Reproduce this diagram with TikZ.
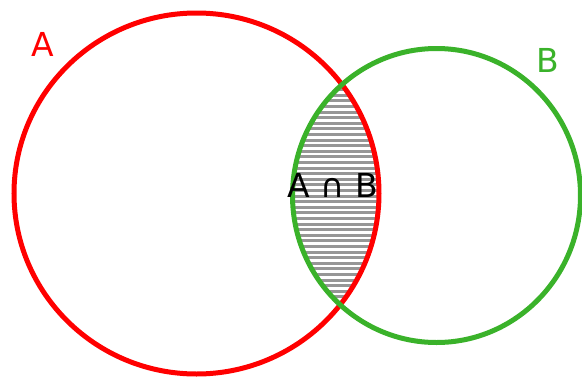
\documentclass[tikz,border=0pt]{standalone}
\usepackage{fontspec}
\setmainfont{DejaVu Sans}
\definecolor{SetRed}{RGB}{255,0,0}
\definecolor{SetGreen}{RGB}{58,178,42}
\definecolor{HatchGray}{RGB}{150,150,150}
\tikzset{
  setline/.style ={line width=5pt},
  hatch/.style   ={draw=HatchGray, line width=3pt},
  setlab/.style  ={font=\fontsize{33}{33}\selectfont, inner sep=0pt},
}

\begin{document}
\begin{tikzpicture}[x=1pt,y=-1pt]
  \useasboundingbox (0,0) rectangle (582,378);

  % overlap A and B
  \begin{scope}
    \clip (196.5,193.5) ellipse[x radius=182.5, y radius=180.5];
    \clip (436.5,195.5) ellipse[x radius=144, y radius=147];
    \foreach \y in {84,89.6,...,320}
      \draw[hatch] (280,\y) -- (390,\y);
  \end{scope}

  \draw[setline,SetRed]   (196.5,193.5) ellipse[x radius=182.5, y radius=180.5];
  \draw[setline,SetGreen] (436.5,195.5) ellipse[x radius=144, y radius=147];

  \node[setlab,text=SetRed]   (labA)  at (43,44)   {A};
  \node[setlab,text=SetGreen] (labB)  at (548,60)  {B};
  \node[setlab]               (labAB) at (332.5,185) {A ∩ B};
\end{tikzpicture}
\end{document}
